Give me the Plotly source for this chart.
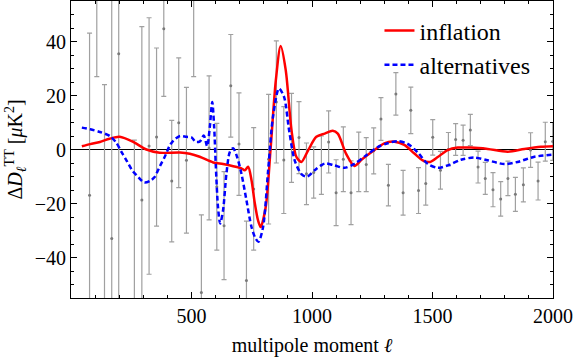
import plotly.graph_objects as go

# Binned residual data (multipole, value, symmetric error)
data_ell = [77, 107, 139, 169, 198, 263, 294, 324, 355, 385, 418, 447, 479, 509, 541, 573,
            605, 635, 663, 697, 728, 758, 820, 852, 883, 915, 946, 977, 1007, 1039, 1069,
            1100, 1130, 1162, 1194, 1225, 1256, 1286, 1317, 1348, 1378, 1410, 1442, 1472,
            1501, 1533, 1566, 1596, 1627, 1657, 1689, 1719, 1751, 1783, 1813, 1844, 1877,
            1907, 1938, 1968, 1999]
data_val = [-16.9, 62, -60, -33, 35.5, -60, -18.7, 1.3, 4.6, 44.7, -11.7, 9.9, -4, 58, -53, 0.6,
            -13.8, -28.2, 23.6, 2, -48.5, -14.6, -3.6, 17.6, -3.9, 4.3, 4.4, -9, -8.5, -5.8, 2.8,
            -16, -3.6, -16, -4.6, -5.6, -0.5, 11.3, -13.2, 20.6, -16, 14.5, -15.2, -12.6,
            4.5, -7.7, 0.1, 3.7, 3.4, 7.2, -6.5, -10.7, -14.9, -18.3, -10.7, -16.6, -13.1,
            -0.2, -11.7, 2.9, 3]
data_err = [60, 35, 84, 95, 95, 63.5, 64.2, 47.5, 33, 25, 22.5, 24, 27, 31, 28.8, 26.7,
            23.5, 20, 19, 19, 22, 22.7, 24, 22.6, 19.8, 16.5, 13.3, 11.4, 9.5, 10.8, 11.5,
            12.2, 12, 11.8, 11, 10, 8.5, 7.9, 7.7, 7.9, 8.3, 8.6, 8.5, 8,
            6.6, 7, 6.2, 5.9, 5.6, 5.8, 5.9, 5.9, 6.3, 6.4, 6.4, 6.3, 6.3,
            6.4, 7, 7.2, 7]

# Model curves
infl_ell = [45, 80, 120, 160, 202, 258, 313, 368, 452, 493, 534, 590, 631, 673, 707, 721, 735,
            749, 762, 776, 787, 808, 828, 850, 870, 891, 915, 935, 956, 984, 1018, 1053, 1086,
            1107, 1141, 1176, 1204, 1259, 1300, 1342, 1383, 1425, 1459, 1490, 1522, 1563, 1605,
            1660, 1729, 1812, 1881, 1950, 2000]
infl_val = [1.2, 2.0, 2.8, 4.0, 4.7, 2.8, 0.0, -1.2, -1.1, -1.6, -2.7, -4.8, -5.4, -6.2, -7.0, -7.7, -6.4,
            -11.4, -19.5, -26.2, -28.7, -21.3, 0, 25.7, 38.3, 29.4, 7.1, -2.7, -4.6, -0.3, 4.7, 5.9, 6.9,
            5.9, -1.5, -6.1, -3.9, -0.2, 2.3, 2.9, 1.7, -1.5, -4, -4.6, -2.8, -0.2, 0.7,
            0.7, 0.2, -0.8, 0.2, 1.0, 1.2]

alt_ell = [45, 80, 120, 161, 188, 210, 230, 256, 272, 304, 330, 346, 370, 388, 410, 424, 452, 479,
           500, 518, 535, 551, 565, 576, 586, 594, 601, 610, 619, 631, 645, 659, 673, 689, 707,
           728, 749, 766, 778, 797, 818, 838, 863, 884, 905, 928, 956, 979, 1011, 1053, 1093,
           1134, 1176, 1224, 1273, 1314, 1356, 1397, 1439, 1480, 1522, 1563, 1618, 1674, 1729,
           1798, 1853, 1923, 2000]
alt_val = [8.1, 7.5, 6.5, 5.0, 2.5, -1, -4, -8.0, -9.5, -12.2, -11.5, -10.3, -6, -2.9, 1.5, 3.2, 5.0, 4.7,
           4.5, 2.8, 3.0, 5.2, 1.2, 8.4, 17.6, 8.4, -6.4, -21.3, -27.4, -22.5, -8.9, -0.9, 0.5, -2.7, -8.9,
           -18.8, -28.7, -33, -34.2, -28.7, -7.7, 12.1, 22.6, 19.5, 7.1, -4, -9.1, -10.1, -7.7, -5.2, -5.9,
           -6.8, -5.3, -2.2, 0.9, 2.3, 3.1, 2.1, -1.1, -5.3, -6.8, -5.9, -3.8, -3.0, -4.0,
           -5.4, -4.6, -2.7, -1.9]

x_ticks = [500, 1000, 1500, 2000]
y_ticks = [-40, -20, 0, 20, 40]

FONT = "Liberation Serif"

fig = go.Figure()
fig.add_trace(go.Scatter(
    x=data_ell, y=data_val, mode="markers", showlegend=False,
    marker=dict(color="#7a7a7a", size=3),
    error_y=dict(type="data", array=data_err, visible=True, color="#a0a0a0",
                 thickness=1.2, width=2.5),
))
fig.add_trace(go.Scatter(
    x=infl_ell, y=infl_val, mode="lines", name="inflation",
    line=dict(color="#ff0000", width=2.5, shape="spline", smoothing=0.8),
))
fig.add_trace(go.Scatter(
    x=alt_ell, y=alt_val, mode="lines", name="alternatives",
    line=dict(color="#0000ff", width=2.5, dash="5px,3px", shape="spline", smoothing=0.8),
))

axis_common = dict(
    showline=True, linecolor="black", linewidth=1, mirror="allticks",
    ticks="inside", ticklen=6, tickcolor="black", tickwidth=1,
    showgrid=False, tickfont=dict(family=FONT, size=20, color="black"),
)

fig.update_xaxes(
    range=[0, 2000], tickvals=x_ticks, ticktext=[str(v) for v in x_ticks],
    minor=dict(ticks="inside", ticklen=3, dtick=100, tick0=0, tickcolor="black", showgrid=False),
    zeroline=False,
    title=dict(text="multipole moment <i>ℓ</i>", font=dict(family=FONT, size=20, color="black"),
               standoff=11),
    **axis_common,
)
fig.update_yaxes(
    range=[-55, 55], tickvals=y_ticks,
    minor=dict(ticks="inside", ticklen=3, dtick=5, tick0=0, tickcolor="black", showgrid=False),
    zeroline=True, zerolinecolor="black", zerolinewidth=1,
    title=dict(text="Δ<i>D</i><sub><i>ℓ</i></sub><sup>TT</sup> [<i>μ</i>K<sup>2</sup>]",
               font=dict(family=FONT, size=20, color="black"), standoff=6),
    **axis_common,
)

fig.update_layout(
    width=576, height=358,
    margin=dict(l=71, r=23, t=1, b=60),
    paper_bgcolor="white", plot_bgcolor="white",
    font=dict(family=FONT, size=20, color="black"),
    legend=dict(x=0.64, y=0.975, xanchor="left", yanchor="top",
                bgcolor="rgba(0,0,0,0)", font=dict(family=FONT, size=24, color="black")),
)

fig.write_html("out.html", config={"displayModeBar": False},
               post_script="document.body.style.margin='0';")
